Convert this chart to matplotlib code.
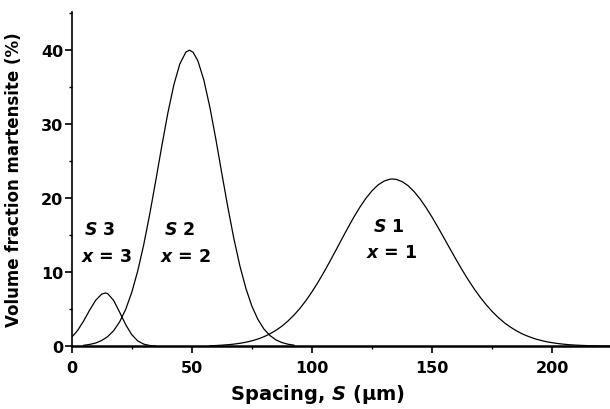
import matplotlib
matplotlib.use("Agg")
import matplotlib.pyplot as plt
from matplotlib.ticker import MultipleLocator

# spacing (um) and volume fraction (%)
s3_x = [0, 2.5, 5, 7.5, 10, 12.5, 14, 15, 17.5, 20, 22.5, 25, 27.5, 30, 32.5, 35]
s3_y = [1.2, 2.15, 3.43, 4.9, 6.22, 7.05, 7.2, 7.11, 6.17, 4.58, 2.9, 1.57, 0.72, 0.29, 0.1, 0.03]

s2_x = [5, 7.5, 10, 12.5, 15, 17.5, 20, 22.5, 25, 27.5, 30, 32.5, 35, 37.5, 40, 42.5,
        45, 47.5, 49, 50.5, 52.5, 55, 57.5, 60, 62.5, 65, 67.5, 70, 72.5, 75, 77.5, 80,
        82.5, 85, 87.5, 90, 92.5]
s2_y = [0.13, 0.25, 0.44, 0.78, 1.31, 2.12, 3.32, 5.01, 7.28, 10.19, 13.75, 17.88, 22.4,
        27.05, 31.48, 35.3, 38.15, 39.73, 40.0, 39.73, 38.58, 35.96, 32.3, 27.96, 23.3,
        18.76, 14.53, 10.85, 7.81, 5.41, 3.62, 2.33, 1.45, 0.86, 0.5, 0.28, 0.15]

s1_x = [57.5, 60, 62.5, 65, 67.5, 70, 72.5, 75, 77.5, 80, 82.5, 85, 87.5, 90, 92.5, 95,
        97.5, 100, 102.5, 105, 107.5, 110, 112.5, 115, 117.5, 120, 122.5, 125, 127.5,
        130, 132.5, 133.5, 135, 137.5, 140, 142.5, 145, 147.5, 150, 152.5, 155, 157.5,
        160, 162.5, 165, 167.5, 170, 172.5, 175, 177.5, 180, 182.5, 185, 187.5, 190,
        192.5, 195, 197.5, 200, 202.5, 205, 207.5, 210, 215, 220, 225]
s1_y = [0.07, 0.10, 0.15, 0.21, 0.29, 0.4, 0.55, 0.74, 0.98, 1.29, 1.68, 2.15, 2.72,
        3.41, 4.21, 5.13, 6.18, 7.36, 8.65, 10.03, 11.5, 13.01, 14.54, 16.05, 17.5,
        18.83, 20.02, 21.02, 21.8, 22.32, 22.58, 22.6, 22.55, 22.25, 21.69, 20.89,
        19.89, 18.72, 17.42, 16.02, 14.58, 13.13, 11.69, 10.3, 8.98, 7.75, 6.62, 5.6,
        4.69, 3.89, 3.19, 2.6, 2.1, 1.67, 1.33, 1.04, 0.81, 0.62, 0.48, 0.36, 0.27,
        0.2, 0.15, 0.08, 0.04, 0.02]

x_ticks = [0, 50, 100, 150, 200]
y_ticks = [0, 10, 20, 30, 40]

# curve labels: (number, x of name, y of name, x of "x = n", y of "x = n")
labels = [("3", 11.8, 15.9, 14.6, 12.2),
          ("2", 45.1, 15.9, 47.2, 12.2),
          ("1", 131.9, 16.3, 133.3, 12.7)]

plt.rcParams['font.family'] = ['DejaVu Sans']
plt.rcParams['mathtext.fontset'] = 'custom'
plt.rcParams['mathtext.it'] = 'DejaVu Sans:italic:bold'
plt.rcParams['mathtext.rm'] = 'DejaVu Sans:bold'

fig = plt.figure(figsize=(6.1, 4.1), dpi=100)
ax = fig.add_axes([0.1175, 0.153, 0.8825, 0.816])

for xs, ys in [(s3_x, s3_y), (s2_x, s2_y), (s1_x, s1_y)]:
    ax.plot(xs, ys, color='black', lw=0.9)

ax.set_xlim(0, 224)
ax.set_ylim(0, 45.2)
ax.spines['top'].set_visible(False)
ax.spines['right'].set_visible(False)
ax.spines['left'].set_linewidth(1.2)
ax.spines['bottom'].set_linewidth(1.8)

ax.set_xticks(x_ticks)
ax.set_yticks(y_ticks)
ax.xaxis.set_minor_locator(MultipleLocator(25))
ax.yaxis.set_minor_locator(MultipleLocator(5))
ax.tick_params(which='major', direction='out', length=5, width=1.2, labelsize=11.5, pad=5)
ax.tick_params(axis='y', which='major', pad=1)
ax.tick_params(which='minor', direction='out', length=2.5, width=1)
for t in ax.get_xticklabels() + ax.get_yticklabels():
    t.set_fontweight('bold')

ax.set_xlabel("Spacing, $S$ (μm)", fontsize=14, fontweight='bold')
ax.xaxis.set_label_coords(0.4575, -0.108)
ax.set_ylabel("Volume fraction martensite (%)", fontsize=12, fontweight='bold')
ax.yaxis.set_label_coords(-0.09, 0.5)

for num, x1, y1, x2, y2 in labels:
    ax.text(x1, y1, "$S$ " + num, ha='center', va='center', fontsize=12.5,
            fontweight='bold')
    ax.text(x2, y2, "$x$ = " + num, ha='center', va='center', fontsize=12.5,
            fontweight='bold')

fig.savefig("out.png", dpi=100)
